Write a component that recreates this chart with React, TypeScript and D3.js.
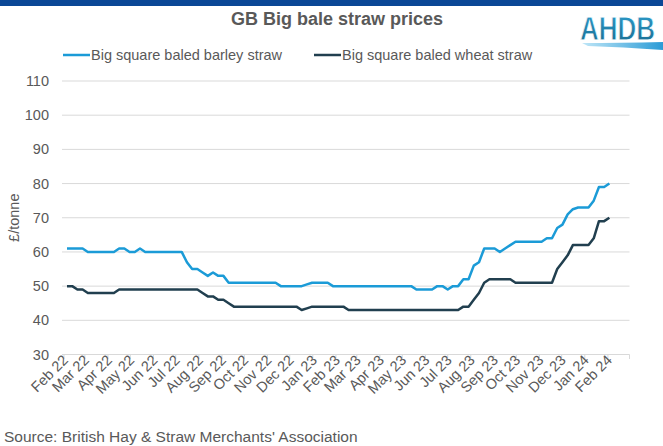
import React from "react";
import * as d3 from "d3";

// weekly series, first observation early Feb 2022
const firstWeek = new Date(2022, 1, 5);

const barley = [
  61, 61, 61, 61, 60, 60, 60, 60, 60, 60, 61, 61, 60, 60, 61, 60, 60, 60, 60, 60,
  60, 60, 60, 57, 55, 55, 54, 53, 54, 53, 53, 51, 51, 51, 51, 51, 51, 51, 51, 51,
  51, 50, 50, 50, 50, 50, 50.5, 51, 51, 51, 51, 50, 50, 50, 50, 50, 50, 50, 50, 50,
  50, 50, 50, 50, 50, 50, 50, 49, 49, 49, 49, 50, 50, 49, 50, 50, 52, 52, 56, 57,
  61, 61, 61, 60, 61, 62, 63, 63, 63, 63, 63, 63, 64, 64, 67, 68, 71, 72.5, 73, 73,
  73, 75, 79, 79, 80,
];

const wheat = [
  50, 50, 49, 49, 48, 48, 48, 48, 48, 48, 49, 49, 49, 49, 49, 49, 49, 49, 49, 49,
  49, 49, 49, 49, 49, 49, 48, 47, 47, 46, 46, 45, 44, 44, 44, 44, 44, 44, 44, 44,
  44, 44, 44, 44, 44, 43, 43.5, 44, 44, 44, 44, 44, 44, 44, 43, 43, 43, 43, 43, 43,
  43, 43, 43, 43, 43, 43, 43, 43, 43, 43, 43, 43, 43, 43, 43, 43, 44, 44, 46, 48,
  51, 52, 52, 52, 52, 52, 51, 51, 51, 51, 51, 51, 51, 51, 55, 57, 59, 62, 62, 62,
  62, 64, 69, 69, 70,
];

const yTicks = [30, 40, 50, 60, 70, 80, 90, 100, 110];
const monthTicks = d3.timeMonth.range(new Date(2022, 1, 1), new Date(2024, 2, 2));
const monthLabels = monthTicks.slice(0, 25).map(d3.timeFormat("%b %y"));

const series = [
  { name: "Big square baled barley straw", values: barley, color: "#1b9bd7" },
  { name: "Big square baled wheat straw", values: wheat, color: "#213f4f" },
];

const textColor = "#595959";
const font = "'Liberation Sans', Arial, sans-serif";

const App: React.FC = () => {
  const x = d3
    .scaleTime()
    .domain([new Date(2022, 1, 1), new Date(2024, 2, 1)])
    .range([64, 629.5]);
  const y = d3.scaleLinear().domain([30, 110]).range([354.5, 81]);

  const dates = barley.map((_, i) => d3.timeDay.offset(firstWeek, i * 7));

  const line = d3
    .line<number>()
    .x((_, i) => x(dates[i]))
    .y((d) => y(d));

  return (
    <svg
      width={663}
      height={446}
      style={{ position: "absolute", left: 0, top: 0, background: "#fff" }}
      fontFamily={font}
    >
      <rect x={0} y={0} width={663} height={6} fill="#0b4796" />

      {/* logo */}
      <defs>
        <linearGradient id="logoGrad" x1="0" y1="0" x2="0" y2="1">
          <stop offset="0" stopColor="#2f9fd0" />
          <stop offset="1" stopColor="#17698c" />
        </linearGradient>
        <linearGradient id="swoosh" x1="0" y1="0" x2="1" y2="0">
          <stop offset="0" stopColor="#bfe6f7" />
          <stop offset="1" stopColor="#2a9bd6" />
        </linearGradient>
      </defs>
      <text
        transform="translate(580, 40) scale(1, 1.3)"
        fontSize={26}
        fontWeight="bold"
        fill="url(#logoGrad)"
        stroke="#ffffff"
        strokeWidth={0.6}
      >
        AHDB
      </text>
      <path d="M582,43 Q620,43 663,42 L663,50 Q622,47 588,46 Z" fill="url(#swoosh)" />

      <text
        x={337}
        y={25}
        textAnchor="middle"
        fontSize={18}
        fontWeight="bold"
        fill={textColor}
      >
        GB Big bale straw prices
      </text>

      {/* legend */}
      {series.map((s, i) => {
        const lx = i === 0 ? 63 : 314;
        return (
          <g key={s.name}>
            <line x1={lx} x2={lx + 27} y1={55} y2={55} stroke={s.color} strokeWidth={2.5} />
            <text x={lx + 28} y={60} fontSize={14.5} fill={textColor}>
              {s.name}
            </text>
          </g>
        );
      })}

      {/* grid + y axis */}
      {yTicks.map((t) => (
        <g key={t}>
          <line
            x1={62}
            x2={629.5}
            y1={y(t)}
            y2={y(t)}
            stroke="#d9d9d9"
            strokeWidth={1}
          />
          <text
            x={49}
            y={y(t) + 5}
            textAnchor="end"
            fontSize={14.5}
            fill={textColor}
          >
            {t}
          </text>
        </g>
      ))}
      <text
        transform={`translate(19, ${y(70)}) rotate(-90)`}
        textAnchor="middle"
        fontSize={14.5}
        fill={textColor}
      >
        £/tonne
      </text>

      {/* x axis ticks and labels */}
      {monthTicks.map((m) => (
        <line
          key={m.toISOString()}
          x1={x(m)}
          x2={x(m)}
          y1={354.5}
          y2={359}
          stroke="#d9d9d9"
        />
      ))}
      {monthLabels.map((lab, i) => (
        <text
          key={lab}
          transform={`translate(${x(monthTicks[i]) + 5}, ${361}) rotate(-45)`}
          textAnchor="end"
          fontSize={14.5}
          fill={textColor}
        >
          {lab}
        </text>
      ))}

      {/* series */}
      {series.map((s) => (
        <path
          key={s.name}
          d={line(s.values) || ""}
          fill="none"
          stroke={s.color}
          strokeWidth={2.5}
          strokeLinejoin="round"
        />
      ))}

      <text x={4} y={442} fontSize={15.5} fill={textColor}>
        Source: British Hay &amp; Straw Merchants' Association
      </text>
    </svg>
  );
};

export default App;
